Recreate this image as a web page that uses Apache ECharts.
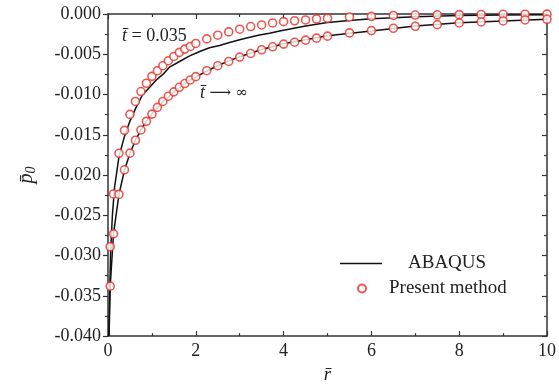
<!DOCTYPE html>
<html>
<head>
<meta charset="utf-8">
<script src="https://cdn.jsdelivr.net/npm/echarts@6/dist/echarts.min.js"></script>
<style>html,body{margin:0;padding:0;background:#fff}#c{width:559px;height:389px}</style>
</head>
<body>
<div id="c"></div>
<script>
// Present method, t = 0.035
const upperX = [0.05,0.125,0.25,0.375,0.5,0.625,0.75,0.875,1.0,1.125,1.25,1.375,1.5,1.625,1.75,1.875,2.0,2.25,2.5,2.75,3.0,3.25,3.5,3.75,4.0,4.25,4.5,4.75,5.0,5.5,6.0,6.5,7.0,7.5,8.0,8.5,9.0,9.5,10.0];
const upperY = [-0.0289,-0.02235,-0.0173,-0.01445,-0.01247,-0.01086,-0.00963,-0.0086,-0.00774,-0.00704,-0.00642,-0.0058,-0.00527,-0.00477,-0.00436,-0.00403,-0.00366,-0.00309,-0.00263,-0.00222,-0.00189,-0.00156,-0.00136,-0.00111,-0.00095,-0.00084,-0.00074,-0.00062,-0.00053,-0.00037,-0.00029,-0.00018,-0.00013,-0.0001,-0.00008,-0.00006,-0.00004,-0.00003,-0.00002];
// Present method, t -> infinity
const lowerX = [0.05,0.125,0.25,0.375,0.5,0.625,0.75,0.875,1.0,1.125,1.25,1.375,1.5,1.625,1.75,1.875,2.0,2.25,2.5,2.75,3.0,3.25,3.5,3.75,4.0,4.25,4.5,4.75,5.0,5.5,6.0,6.5,7.0,7.5,8.0,8.5,9.0,9.5,10.0];
const lowerY = [-0.0338,-0.0273,-0.0224,-0.01935,-0.01728,-0.01568,-0.0144,-0.01333,-0.01243,-0.0116,-0.01086,-0.01021,-0.00967,-0.0091,-0.00864,-0.00819,-0.00778,-0.00704,-0.00642,-0.00589,-0.00535,-0.0049,-0.00444,-0.00407,-0.00374,-0.0035,-0.00325,-0.003,-0.00275,-0.00235,-0.00206,-0.00177,-0.00152,-0.00132,-0.00111,-0.00099,-0.00086,-0.00074,-0.00066];
// ABAQUS, t = 0.035
const abqUpperX = [0.02,0.04,0.06,0.1,0.15,0.25,0.375,0.5,0.64,0.79,0.95,1.1,1.25,1.4,1.63,1.86,2.09,2.31,2.54,2.77,3.0,3.23,3.45,3.68,3.91,4.5,5.0,5.5,6.0,7.0,8.0,9.0,10.0];
const abqUpperY = [-0.0400,-0.0345,-0.0295,-0.0250,-0.0215,-0.0177,-0.0152,-0.0133,-0.0116,-0.0100,-0.0091,-0.0082,-0.0075,-0.0066,-0.0059,-0.0052,-0.00465,-0.0042,-0.0039,-0.00354,-0.0032,-0.0029,-0.0026,-0.0024,-0.0021,-0.0015,-0.00105,-0.0008,-0.0006,-0.00035,-0.0002,-0.00012,-0.00008];
// ABAQUS, t -> infinity
const abqLowerX = [0.025,0.05,0.125,0.25,0.375,0.5,0.625,0.75,0.875,1.0,1.25,1.5,1.75,2.0,2.5,3.0,3.5,4.0,4.5,5.0,6.0,7.0,8.0,9.0,10.0];
const abqLowerY = [-0.0400,-0.0338,-0.0273,-0.0224,-0.0194,-0.0173,-0.0157,-0.0144,-0.0133,-0.0124,-0.0109,-0.0097,-0.0086,-0.0078,-0.0064,-0.0053,-0.0044,-0.0037,-0.0032,-0.0027,-0.0021,-0.0015,-0.0011,-0.00086,-0.00066];

const xTicks = {min: 0, max: 10, interval: 2};
const yTicks = {min: -0.04, max: 0, interval: 0.005};

const zip = (xs, ys) => xs.map((x, i) => [x, ys[i]]);
const FONT = '"Liberation Serif","Times New Roman",serif';
const AX = '#333';
const RED = '#e62e26';

const chart = echarts.init(document.getElementById('c'), null, {renderer: 'canvas'});
const baseX = {
  type: 'value', min: xTicks.min, max: xTicks.max, interval: xTicks.interval,
  splitLine: {show: false},
  axisLine: {show: true, onZero: false, lineStyle: {color: AX, width: 1.5}},
  axisTick: {show: true, inside: true, length: 5, lineStyle: {color: AX, width: 1.2}},
  minorTick: {show: true, splitNumber: 2, length: 3, lineStyle: {color: AX, width: 1.2}},
};
const baseY = {
  type: 'value', min: yTicks.min, max: yTicks.max, interval: yTicks.interval,
  splitLine: {show: false},
  axisLine: {show: true, onZero: false, lineStyle: {color: AX, width: 1.5}},
  axisTick: {show: true, inside: false, length: 5, lineStyle: {color: AX, width: 1.2}},
  minorTick: {show: true, splitNumber: 2, length: 3, lineStyle: {color: AX, width: 1.2}},
};
chart.setOption({
  animation: false,
  backgroundColor: '#fff',
  grid: {left: 108, right: 12, top: 14, bottom: 51, containLabel: false},
  xAxis: [
    Object.assign({}, baseX, {
      position: 'bottom',
      axisLabel: {color: '#222', fontFamily: FONT, fontSize: 18, margin: 6},
      name: '{i|r\u0304}', nameLocation: 'middle', nameGap: 27,
      nameTextStyle: {rich: {i: {fontFamily: FONT, fontStyle: 'italic', fontSize: 19, color: '#222'}}}
    }),
    Object.assign({}, baseX, {position: 'top', axisLabel: {show: false}})
  ],
  yAxis: [
    Object.assign({}, baseY, {
      position: 'left',
      axisLabel: {color: '#222', fontFamily: FONT, fontSize: 18, margin: 7,
        formatter: v => (Math.abs(v) < 1e-12 ? 0 : v).toFixed(3)},
      name: '{i|p\u0304}{s|0}', nameLocation: 'middle', nameGap: 70, nameRotate: 90,
      nameTextStyle: {rich: {
        i: {fontFamily: FONT, fontStyle: 'italic', fontSize: 20, color: '#222'},
        s: {fontFamily: FONT, fontStyle: 'italic', fontSize: 14, color: '#222', padding: [8, 0, 0, 0]}
      }}
    }),
    Object.assign({}, baseY, {position: 'right', axisLabel: {show: false},
      axisTick: {show: true, inside: true, length: 5, lineStyle: {color: AX, width: 1.2}},
      minorTick: {show: true, inside: true, splitNumber: 2, length: 3, lineStyle: {color: AX, width: 1.2}}})
  ],
  legend: [
    {data: [{name: 'ABAQUS', icon: 'rect', itemStyle: {color: '#111', borderWidth: 0}}],
      left: 340, top: 254, padding: 0, itemWidth: 42, itemHeight: 1.6,
      textStyle: {fontFamily: FONT, fontSize: 19, color: '#222', padding: [0, 0, 0, 21]}},
    {data: ['Present method'], left: 357, top: 279, padding: 0, itemWidth: 8, itemHeight: 8,
      textStyle: {fontFamily: FONT, fontSize: 19, color: '#222', padding: [0, 0, 0, 18]}}
  ],
  series: [
    {name: 'ABAQUS', type: 'line', data: zip(abqUpperX, abqUpperY), showSymbol: false, symbol: 'none',
      lineStyle: {color: '#111', width: 1.5}, itemStyle: {color: '#111'}, z: 2},
    {name: 'ABAQUS', type: 'line', data: zip(abqLowerX, abqLowerY), showSymbol: false, symbol: 'none',
      lineStyle: {color: '#111', width: 1.5}, itemStyle: {color: '#111'}, z: 2},
    {name: 'Present method', type: 'scatter', data: zip(upperX, upperY), symbol: 'circle', symbolSize: 8,
      itemStyle: {color: '#fff', borderColor: RED, borderWidth: 1.6}, z: 3},
    {name: 'Present method', type: 'scatter', data: zip(lowerX, lowerY), symbol: 'circle', symbolSize: 8,
      itemStyle: {color: '#fff', borderColor: RED, borderWidth: 1.6}, z: 3}
  ],
  graphic: [
    {type: 'text', left: 122, top: 27, style: {
      text: '{i|t\u0304} = 0.035', fill: '#222',
      rich: {i: {fontFamily: FONT, fontStyle: 'italic', fontSize: 18}},
      fontFamily: FONT, fontSize: 18}},
    {type: 'text', left: 200, top: 84, style: {
      text: '{i|t\u0304} {a|\u27f6} {a|\u221e}', fill: '#222',
      rich: {i: {fontFamily: FONT, fontStyle: 'italic', fontSize: 18},
             a: {fontFamily: '"DejaVu Serif",serif', fontSize: 15}},
      fontFamily: FONT, fontSize: 18}}
  ]
});
</script>
</body>
</html>
